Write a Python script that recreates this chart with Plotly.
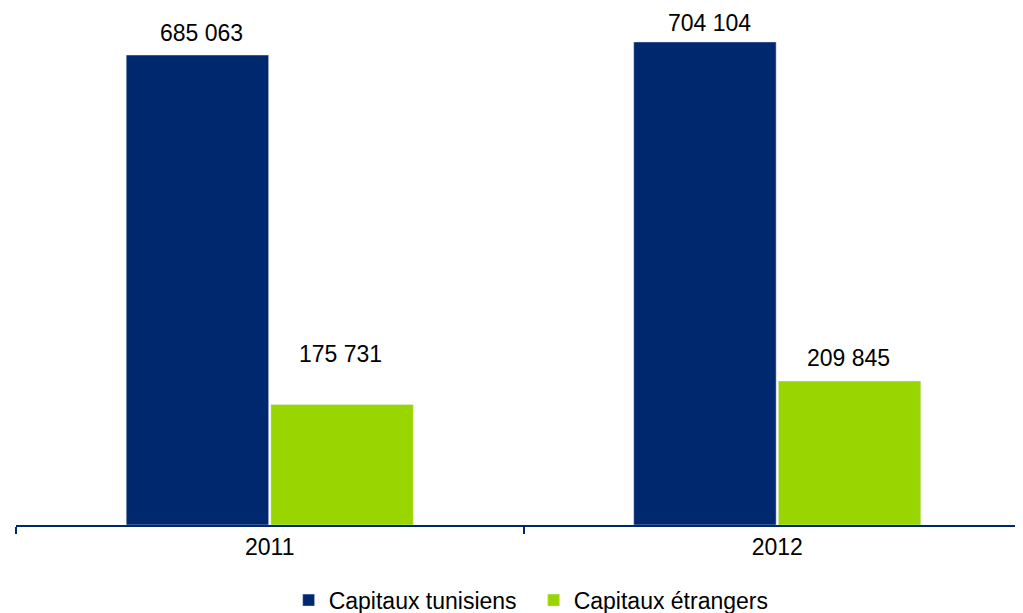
import plotly.graph_objects as go

years = ["2011", "2012"]
tunisiens = [685063, 704104]
etrangers = [175731, 209845]
series_names = ["Capitaux tunisiens", "Capitaux étrangers"]
label_lift = [[8, 5], [36, 9]]  # extra px above bar for each label

blue = "#00286F"
green = "#99D500"


def fmt(v):
    return f"{v:,}".replace(",", " ")


fig = go.Figure()
fig.add_trace(go.Bar(x=years, y=tunisiens, name=series_names[0], marker_color=blue))
fig.add_trace(go.Bar(x=years, y=etrangers, name=series_names[1], marker_color=green))

# value labels (x given as category index)
for i, yr in enumerate(years):
    for s, (vals, shift) in enumerate([(tunisiens, -68), (etrangers, 71)]):
        fig.add_annotation(x=i, y=vals[i], xref="x", yref="y", text=fmt(vals[i]),
                           showarrow=False, xshift=shift, yshift=label_lift[s][i],
                           yanchor="bottom", borderpad=0,
                           font=dict(size=23, color="black"))

# page body adds an 8px offset, margins compensate for it
fig.update_layout(
    width=1023, height=613,
    margin=dict(l=8, r=0, t=2, b=96, autoexpand=False),
    barmode="group", bargap=0.43, bargroupgap=0.015,
    plot_bgcolor="white", paper_bgcolor="white",
    font=dict(family="Liberation Sans, Arial, sans-serif", size=23, color="black"),
    showlegend=True,
    legend=dict(orientation="h", x=0.51, xanchor="center", yref="container",
                y=0.034, yanchor="middle", font=dict(size=23), itemwidth=30,
                entrywidth=200, traceorder="normal"),
)
fig.update_xaxes(type="category", range=[-0.5, 1.5], tickson="boundaries",
                 ticks="outside", ticklen=7, tickwidth=2, tickcolor=blue,
                 showline=True, linecolor=blue, linewidth=2, showgrid=False,
                 automargin=False, tickfont=dict(size=23))
fig.update_yaxes(range=[0, 750650], visible=False, showgrid=False)

fig.write_html("out.html")
